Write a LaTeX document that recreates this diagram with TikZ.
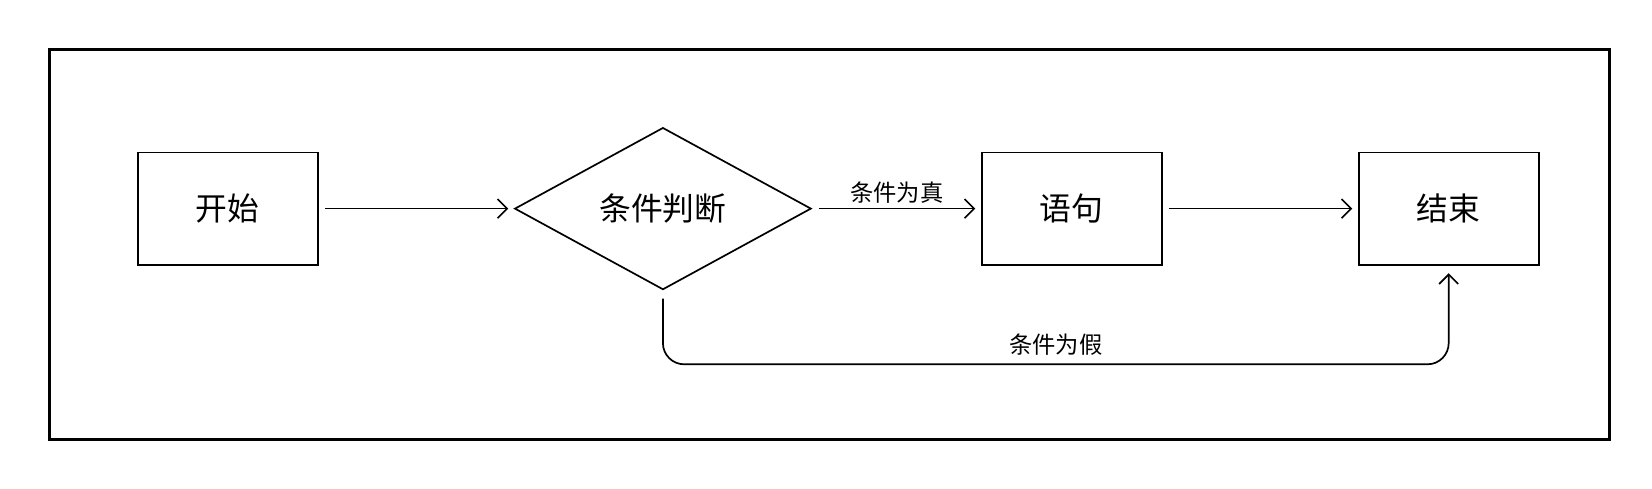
\documentclass[tikz,border=0pt]{standalone}
\usepackage{fontspec}
\setmainfont{Noto Sans CJK SC}
\usetikzlibrary{shapes.geometric,arrows.meta}
\begin{document}
\begin{tikzpicture}[x=1pt,y=-1pt,
  box/.style={draw,line width=1.6pt,minimum width=170pt,minimum height=106pt,font=\fontsize{30}{36}\selectfont},
  arr/.style={line width=1.6pt,-{Straight Barb[length=9pt,width=18pt,line width=1.6pt]}},
  lbl/.style={font=\fontsize{22}{26}\selectfont}]
\useasboundingbox (0,0) rectangle (1560,461);
\draw[line width=3pt] (47,47) rectangle (1520,415);
\node[box] (s) at (215,197) {开始};
\node[draw,line width=1.6pt,diamond,aspect=2.3,minimum width=280pt,minimum height=153pt,inner sep=0pt,font=\fontsize{30}{36}\selectfont] (c) at (626,197) {条件判断};
\node[box] (st) at (1012,197) {语句};
\node[box] (e) at (1368,197) {结束};
\coordinate (s1) at (307,197); \coordinate (c1) at (480,197);
\coordinate (c2) at (773,197); \coordinate (t1) at (921,197);
\coordinate (t2) at (1104,197); \coordinate (e1) at (1277,197);
\coordinate (c3) at (626,282); \coordinate (e2) at (1368,258);
\draw[arr] (s1) -- (c1);
\draw[arr] (c2) -- node[lbl,above=1pt] {条件为真} (t1);
\draw[arr] (t2) -- (e1);
\draw[arr,rounded corners=20pt] (c3) -- (626,344) -- node[lbl,above=4pt] {条件为假} (1368,344) -- (e2);
\end{tikzpicture}
\end{document}
